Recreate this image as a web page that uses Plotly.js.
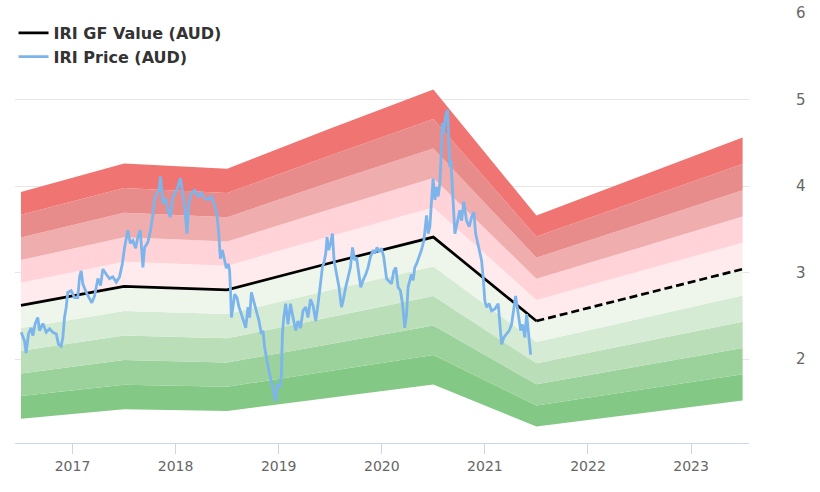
<!DOCTYPE html>
<html>
<head>
<meta charset="utf-8">
<script src="https://cdn.plot.ly/plotly-3.0.1.min.js"></script>
<style>
html,body{margin:0;padding:0;background:#fff;}
#chart{width:820px;height:492px;}
</style>
</head>
<body>
<div id="chart"></div>
<script>
// GF Value knots (decimal years) and values (AUD)
const gfYears = [2016.5, 2017.5, 2018.5, 2019.5, 2020.5, 2021.5, 2022.5, 2023.5];
const gfValues = [2.62, 2.84, 2.80, 3.11, 3.41, 2.44, 2.74, 3.04];
const gfSolidCount = 6; // knots up to 2021.5 are historical (solid), the rest projected (dashed)

// Valuation band multipliers of GF Value
const bandFactors = [0.5, 0.6, 0.7, 0.8, 0.9, 1.0, 1.1, 1.2, 1.3, 1.4, 1.5];

// IRI price (AUD), decimal year positions
const priceYears = [
2016.502,2016.534,2016.550,2016.573,2016.599,2016.615,2016.638,2016.663,2016.680,2016.712,
2016.745,2016.777,2016.809,2016.842,2016.864,2016.890,2016.906,2016.922,2016.939,2016.954,
2016.987,2017.019,2017.051,2017.068,2017.084,2017.100,2017.133,2017.165,2017.187,2017.214,
2017.230,2017.246,2017.272,2017.294,2017.327,2017.359,2017.391,2017.424,2017.456,2017.483,
2017.505,2017.537,2017.560,2017.585,2017.612,2017.634,2017.657,2017.683,2017.699,2017.731,
2017.754,2017.774,2017.796,2017.818,2017.838,2017.854,2017.877,2017.903,2017.925,2017.949,
2017.974,2018.000,2018.022,2018.046,2018.065,2018.087,2018.110,2018.129,2018.152,2018.184,
2018.217,2018.250,2018.282,2018.314,2018.347,2018.379,2018.401,2018.420,2018.434,2018.453,
2018.476,2018.492,2018.512,2018.524,2018.534,2018.541,2018.556,2018.573,2018.595,2018.615,
2018.638,2018.660,2018.680,2018.702,2018.718,2018.735,2018.757,2018.783,2018.809,2018.832,
2018.848,2018.864,2018.886,2018.906,2018.929,2018.951,2018.971,2018.987,2019.010,2019.026,
2019.036,2019.049,2019.068,2019.090,2019.114,2019.139,2019.165,2019.187,2019.211,2019.236,
2019.262,2019.284,2019.308,2019.333,2019.359,2019.382,2019.405,2019.424,2019.440,2019.456,
2019.469,2019.485,2019.502,2019.521,2019.537,2019.560,2019.585,2019.609,2019.624,2019.650,
2019.673,2019.696,2019.716,2019.738,2019.754,2019.780,2019.796,2019.818,2019.845,2019.867,
2019.890,2019.916,2019.932,2019.954,2019.974,2019.997,2020.019,2020.046,2020.071,2020.094,
2020.117,2020.136,2020.158,2020.181,2020.201,2020.223,2020.240,2020.255,2020.272,2020.288,
2020.304,2020.320,2020.337,2020.362,2020.385,2020.408,2020.424,2020.434,2020.450,2020.466,
2020.483,2020.498,2020.515,2020.531,2020.547,2020.563,2020.580,2020.589,2020.602,2020.618,
2020.638,2020.650,2020.660,2020.670,2020.683,2020.692,2020.709,2020.731,2020.757,2020.774,
2020.796,2020.822,2020.848,2020.871,2020.893,2020.910,2020.925,2020.945,2020.968,2020.983,
2021.000,2021.017,2021.042,2021.065,2021.097,2021.129,2021.146,2021.162,2021.184,2021.211,
2021.236,2021.259,2021.275,2021.298,2021.314,2021.330,2021.347,2021.366,2021.388,2021.405,
2021.420,2021.430,2021.444
];
const priceValues = [
2.31,2.21,2.07,2.29,2.36,2.27,2.41,2.48,2.33,2.41,
2.31,2.35,2.31,2.29,2.17,2.15,2.25,2.48,2.60,2.77,
2.79,2.71,2.71,2.95,3.02,2.87,2.77,2.70,2.65,2.73,
2.85,2.93,2.85,3.04,2.98,2.93,2.95,2.89,2.95,3.10,
3.29,3.49,3.34,3.37,3.28,3.41,3.49,3.06,3.29,3.35,
3.47,3.62,3.84,3.92,3.95,4.11,3.80,3.86,3.72,3.64,
3.88,3.93,3.99,4.09,3.95,3.76,3.45,3.80,3.92,3.95,
3.88,3.92,3.86,3.84,3.88,3.78,3.67,3.43,3.16,3.26,
3.14,3.05,3.10,3.02,2.75,2.48,2.60,2.75,2.71,2.60,
2.52,2.44,2.36,2.60,2.48,2.77,2.67,2.56,2.44,2.29,
2.33,2.13,1.98,1.86,1.74,1.63,1.51,1.71,1.67,1.82,
2.29,2.48,2.64,2.40,2.64,2.48,2.33,2.44,2.36,2.56,
2.60,2.48,2.69,2.62,2.44,2.64,2.91,3.06,3.12,3.22,
3.41,3.26,3.33,3.45,3.14,2.98,2.83,2.60,2.67,2.83,
2.95,3.06,3.29,3.14,3.18,2.95,2.83,2.91,2.98,3.06,
3.18,3.26,3.22,3.29,3.24,3.28,3.18,2.93,2.90,2.87,
3.02,3.06,2.83,2.79,2.64,2.36,2.52,2.83,2.91,2.98,
2.91,3.06,3.10,3.18,3.26,3.37,3.53,3.66,3.45,3.53,
3.84,4.09,3.84,3.99,3.88,4.03,4.46,4.73,4.61,4.81,
4.88,4.50,4.22,4.30,3.99,3.72,3.45,3.57,3.72,3.60,
3.82,3.60,3.53,3.64,3.70,3.45,3.37,3.29,3.14,2.95,
2.67,2.60,2.64,2.56,2.58,2.64,2.40,2.17,2.25,2.29,
2.33,2.40,2.52,2.73,2.60,2.44,2.33,2.40,2.25,2.52,
2.36,2.21,2.05
];

const yearTicks = [2017, 2018, 2019, 2020, 2021, 2022, 2023];
const yearLabels = ['2017', '2018', '2019', '2020', '2021', '2022', '2023'];
const valueTicks = [2, 3, 4, 5, 6];
const valueLabels = ['2', '3', '4', '5', '6'];

const bandColors = ['#83c885', '#9bd29b', '#b9deb8', '#d5ebd3', '#eef6ec',
                    '#ffebed', '#ffd3d8', '#f0adad', '#e88c8b', '#f07471'];

const traces = [];
bandFactors.forEach(function (f, i) {
  traces.push({
    type: 'scatter', mode: 'lines',
    x: gfYears, y: gfValues.map(function (v) { return v * f; }),
    line: {width: 0, color: 'rgba(0,0,0,0)'},
    fill: i === 0 ? 'none' : 'tonexty',
    fillcolor: i === 0 ? undefined : bandColors[i - 1],
    showlegend: false, hoverinfo: 'skip'
  });
});

traces.push({
  type: 'scatter', mode: 'lines', name: 'IRI GF Value (AUD)',
  x: gfYears.slice(0, gfSolidCount), y: gfValues.slice(0, gfSolidCount),
  line: {color: '#000000', width: 2.7}
});
traces.push({
  type: 'scatter', mode: 'lines', name: 'IRI GF Value projected',
  x: gfYears.slice(gfSolidCount - 1), y: gfValues.slice(gfSolidCount - 1),
  line: {color: '#000000', width: 2.7, dash: '8px,4px'}, showlegend: false
});
traces.push({
  type: 'scatter', mode: 'lines', name: 'IRI Price (AUD)',
  x: priceYears, y: priceValues,
  line: {color: '#7cb5ec', width: 2.8}
});

const layout = {
  width: 820, height: 492,
  margin: {l: 15, r: 71, t: 13, b: 49},
  paper_bgcolor: '#ffffff', plot_bgcolor: '#ffffff',
  font: {family: 'DejaVu Sans, sans-serif', color: '#666666'},
  showlegend: true,
  legend: {
    x: -0.002, y: 0.993, xanchor: 'left', yanchor: 'top',
    traceorder: 'normal',
    bgcolor: 'rgba(0,0,0,0)',
    font: {family: 'DejaVu Sans, sans-serif', size: 16, color: '#333333', weight: 'bold'},
    tracegroupgap: 0
  },
  xaxis: {
    type: 'linear', range: [2016.442, 2023.562],
    tickmode: 'array', tickvals: yearTicks, ticktext: yearLabels,
    showgrid: false, zeroline: false,
    showline: true, linecolor: '#ccd6eb', linewidth: 1,
    ticks: 'outside', ticklen: 10, tickcolor: '#ccd6eb', tickwidth: 1,
    tickfont: {size: 14, color: '#666666'},
    fixedrange: true
  },
  yaxis: {
    side: 'right', range: [1.03, 6],
    tickmode: 'array', tickvals: valueTicks, ticktext: valueLabels,
    showgrid: true, gridcolor: '#e6e6e6', gridwidth: 1,
    zeroline: false, showline: false, ticks: '',
    ticklabelstandoff: 46,
    tickfont: {size: 15, color: '#666666'},
    fixedrange: true
  }
};

Plotly.newPlot('chart', traces, layout, {displayModeBar: false, staticPlot: true});
</script>
</body>
</html>
